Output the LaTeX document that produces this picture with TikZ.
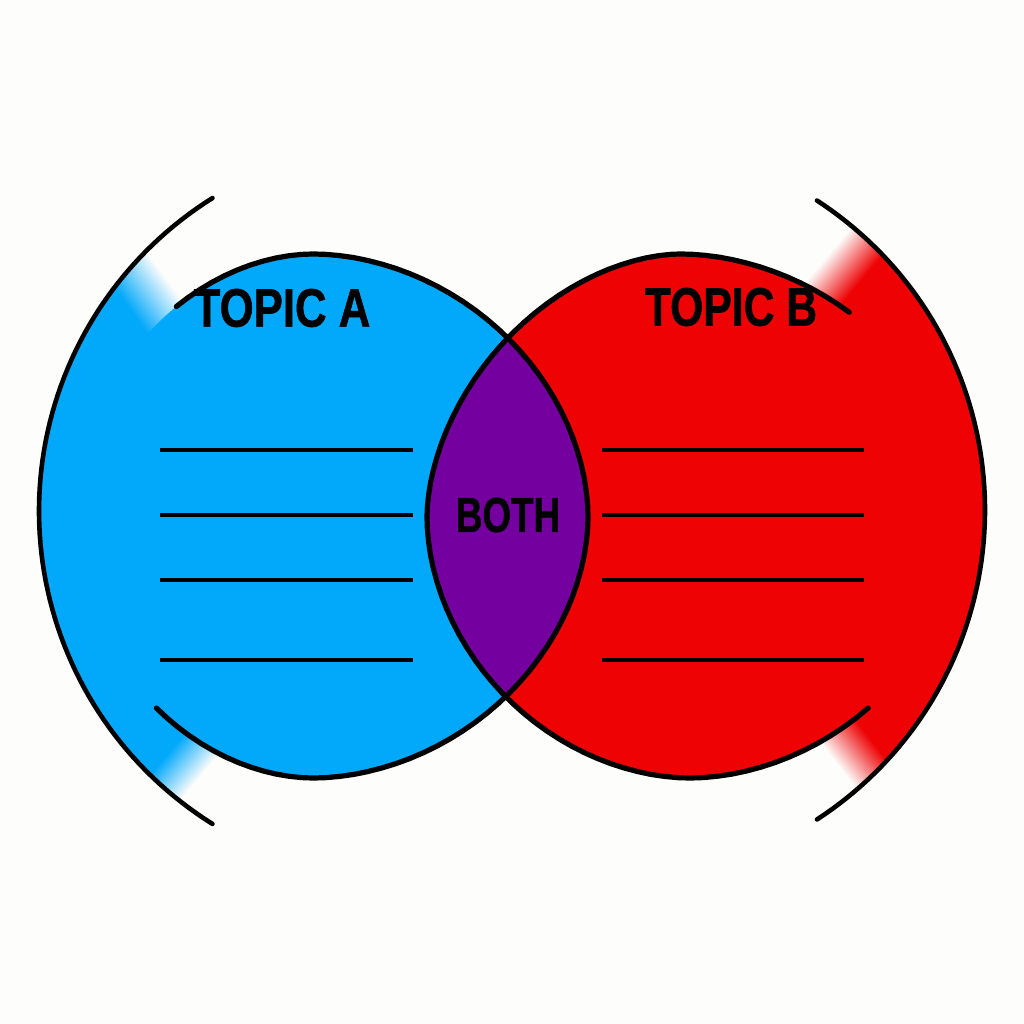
\documentclass[tikz,border=0pt]{standalone}
\usepackage{fontspec}
\setmainfont{Liberation Sans}
\newfontfamily\heavyfont[FakeBold=1.2]{Liberation Sans Bold}
\definecolor{bg}{RGB}{253,253,251}
\definecolor{cblue}{RGB}{2,168,250}
\definecolor{cred}{RGB}{238,2,4}
\definecolor{cpurple}{RGB}{116,0,160}
\tikzset{
  eggline/.style={line width=5.2pt, line cap=round, line join=round},
  arcline/.style={line width=4.6pt, line cap=round},
  wline/.style={line width=3.1pt},
  ttl/.style={inner sep=0pt, text=black, font=\heavyfont\fontsize{54}{54}\selectfont},
}
% left circle (A): quadrant super-ellipses around (313,517)
\def\pathA{plot[domain=0:90,samples=30,variable=\t] ({313+275*P(cos(\t))},{517+261*P(sin(\t))})
 -- plot[domain=90:180,samples=30,variable=\t] ({313-239*P(cos(\t))},{517+261*P(sin(\t))})
 -- plot[domain=180:270,samples=30,variable=\t] ({313-239*P(cos(\t))},{517-263*P(sin(\t))})
 -- plot[domain=270:360,samples=30,variable=\t] ({313+275*P(cos(\t))},{517-263*P(sin(\t))}) -- cycle}
% right circle (B)
\def\pathB{plot[domain=0:90,samples=30,variable=\t] ({690+272*P(cos(\t))},{517+261*P(sin(\t))})
 -- plot[domain=90:180,samples=30,variable=\t] ({690-263*P(cos(\t))},{517+261*P(sin(\t))})
 -- plot[domain=180:270,samples=30,variable=\t] ({680-253*Q(cos(\t))},{517-263*Q(sin(\t))})
 -- plot[domain=270:360,samples=30,variable=\t] ({680+282*P(cos(\t))},{517-263*P(sin(\t))}) -- cycle}
\begin{document}
\begin{tikzpicture}[x=1pt,y=-1pt,
  declare function={P(\a)=pow(abs(\a)+0.0001,1.0526); Q(\a)=pow(abs(\a)+0.0001,1.111);}]
\useasboundingbox (0,0) rectangle (1024,1024);
\fill[bg] (0,0) rectangle (1024,1024);

% ---- left crescent (between outer arc and circle A)
\fill[cblue] plot[domain=122:238,samples=80,variable=\t] ({408+369*cos(\t)},{511+369*sin(\t)}) -- (320,330) -- (320,700) -- cycle;
\begin{scope}
  \clip (408,511) circle[radius=369];
  \begin{scope}[transform canvas={shift={(117,292)},rotate=36}]
    \shade[left color=cblue, right color=bg] (0,-250) rectangle (48,250);
    \fill[bg] (47.5,-250) rectangle (320,250);
  \end{scope}
  \begin{scope}[transform canvas={shift={(150,774)},rotate=-40}]
    \shade[left color=cblue, right color=bg] (0,-250) rectangle (40,250);
    \fill[bg] (39.5,-250) rectangle (320,250);
  \end{scope}
\end{scope}

% ---- right crescent
\fill[cred] plot[domain=-57:57,samples=80,variable=\t] ({616+369*cos(\t)},{510+369*sin(\t)}) -- (700,700) -- (700,330) -- cycle;
\begin{scope}
  \clip (616,510) circle[radius=369];
  \begin{scope}[transform canvas={shift={(848,296)},rotate=140}]
    \shade[left color=cred, right color=bg] (0,-250) rectangle (42,250);
    \fill[bg] (41.5,-250) rectangle (320,250);
  \end{scope}
  \begin{scope}[transform canvas={shift={(862,728)},rotate=218}]
    \shade[left color=cred, right color=bg] (0,-250) rectangle (42,250);
    \fill[bg] (41.5,-250) rectangle (320,250);
  \end{scope}
\end{scope}

% ---- circle fills and overlap
\fill[cblue] \pathA;
\fill[cred] \pathB;
\begin{scope}
  \clip \pathA;
  \fill[cpurple] \pathB;
\end{scope}

% ---- outlines
\draw[eggline] plot[domain=234:270,samples=12,variable=\t] ({313-239*P(cos(\t))},{517-263*P(sin(\t))})
 -- plot[domain=270:360,samples=30,variable=\t] ({313+275*P(cos(\t))},{517-263*P(sin(\t))})
 -- plot[domain=0:90,samples=30,variable=\t] ({313+275*P(cos(\t))},{517+261*P(sin(\t))})
 -- plot[domain=90:132,samples=14,variable=\t] ({313-239*P(cos(\t))},{517+261*P(sin(\t))});
\draw[eggline] plot[domain=48:90,samples=14,variable=\t] ({690+272*P(cos(\t))},{517+261*P(sin(\t))})
 -- plot[domain=90:180,samples=30,variable=\t] ({690-263*P(cos(\t))},{517+261*P(sin(\t))})
 -- plot[domain=180:270,samples=30,variable=\t] ({680-253*Q(cos(\t))},{517-263*Q(sin(\t))})
 -- plot[domain=270:308,samples=14,variable=\t] ({680+282*P(cos(\t))},{517-263*P(sin(\t))});
\draw[arcline] plot[domain=122:238,samples=80,variable=\t] ({408+369*cos(\t)},{511+369*sin(\t)});
\draw[arcline] plot[domain=-57:57,samples=80,variable=\t] ({616+369*cos(\t)},{510+369*sin(\t)});

% ---- writing lines
\foreach \yy in {450,515,580,660} {
  \draw[wline] (160,\yy) -- (413,\yy);
  \draw[wline] (602,\yy) -- (864,\yy);
}

% ---- labels
\node[ttl, xscale=0.81] (ta) at (282,308) {TOPIC A};
\node[ttl, xscale=0.79] (tb) at (731,307) {TOPIC B};
\node[ttl, font=\heavyfont\fontsize{49}{49}\selectfont, xscale=0.75] (both) at (508,515) {BOTH};
\end{tikzpicture}
\end{document}
